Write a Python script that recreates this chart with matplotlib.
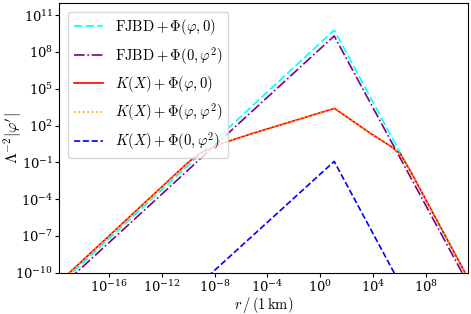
import numpy as np
import matplotlib
matplotlib.use('Agg')
import matplotlib.pyplot as plt

plt.rcParams['mathtext.fontset'] = 'cm'
plt.rcParams['font.family'] = 'serif'
plt.rcParams['font.serif'] = ['DejaVu Serif']

# radio r / (1 km)
r_fjbd = [1e-20, 11.5, 1e12]
# FJBD + Phi(phi, 0)
phi_fjbd_phi = [6.2e-12, 6.0e9, 7.9e-13]
# FJBD + Phi(0, phi^2)
phi_fjbd_phi2 = [3.2e-12, 2.0e9, 3.3e-13]

# K(X): puntos
r_kx = [1e-20, 4.4e-12, 8.3e-11, 2.5e-10, 8.1e-10, 2.75e-9, 2.6e-8, 5.0e-6,
        12.0, 6.2e3, 2.0e5, 1.15e6, 6.6e6, 3.2e7, 1e12]
phi_kx_phi = [1e-11, 4.4e-3, 8.3e-2, 0.22, 0.56, 1.0, 3.1, 20.0,
              2.5e3, 24.0, 2.2, 0.5, 2.1e-2, 9.0e-4, 9.1e-13]
phi_kx_phiphi2 = phi_kx_phi  # se superpone con la anterior

# K(X) + Phi(0, phi^2)
r_kx_phi2 = [1e-9, 11.5, 1e6]
phi_kx_phi2 = [1.66e-11, 0.12, 1.6e-11]

fig, ax = plt.subplots(figsize=(4.71, 3.14), dpi=100)
fig.subplots_adjust(left=0.126, right=0.993, bottom=0.131, top=0.991)

ax.plot(r_fjbd, phi_fjbd_phi, color='cyan', ls=(0, (5, 2)), lw=1.2,
        label=r'$\mathrm{FJBD} + \Phi(\varphi, 0)$')
ax.plot(r_fjbd, phi_fjbd_phi2, color='purple', ls='-.', lw=1.2,
        label=r'$\mathrm{FJBD} + \Phi(0, \varphi^2)$')
ax.plot(r_kx, phi_kx_phi, color='red', ls='-', lw=1.2,
        label=r'$K(X) + \Phi(\varphi, 0)$')
ax.plot(r_kx, phi_kx_phiphi2, color='orange', ls=':', lw=1.2,
        label=r'$K(X) + \Phi(\varphi, \varphi^2)$')
ax.plot(r_kx_phi2, phi_kx_phi2, color='blue', ls='--', lw=1.2,
        label=r'$K(X) + \Phi(0, \varphi^2)$')

ax.set_xscale('log')
ax.set_yscale('log')
ax.set_xlim(10**-19.75, 10**11.17)
ax.set_ylim(1e-10, 1e12)
ax.set_xticks([1e-16, 1e-12, 1e-8, 1e-4, 1e0, 1e4, 1e8])
ax.set_yticks([1e-10, 1e-7, 1e-4, 1e-1, 1e2, 1e5, 1e8, 1e11])
ax.minorticks_off()
ax.tick_params(labelsize=9.5, length=3, pad=1.5)

ax.set_xlabel(r'$r\,/\,(1\,\mathrm{km})$', fontsize=10.5)
ax.set_ylabel(r"$\Lambda^{-2}|\varphi'|$", fontsize=11.5)
ax.xaxis.set_label_coords(0.5, -0.082)
ax.yaxis.set_label_coords(-0.087, 0.5)
ax.legend(loc='upper left', fontsize=10.5, borderaxespad=0.6)

plt.savefig('out.png', dpi=100)
